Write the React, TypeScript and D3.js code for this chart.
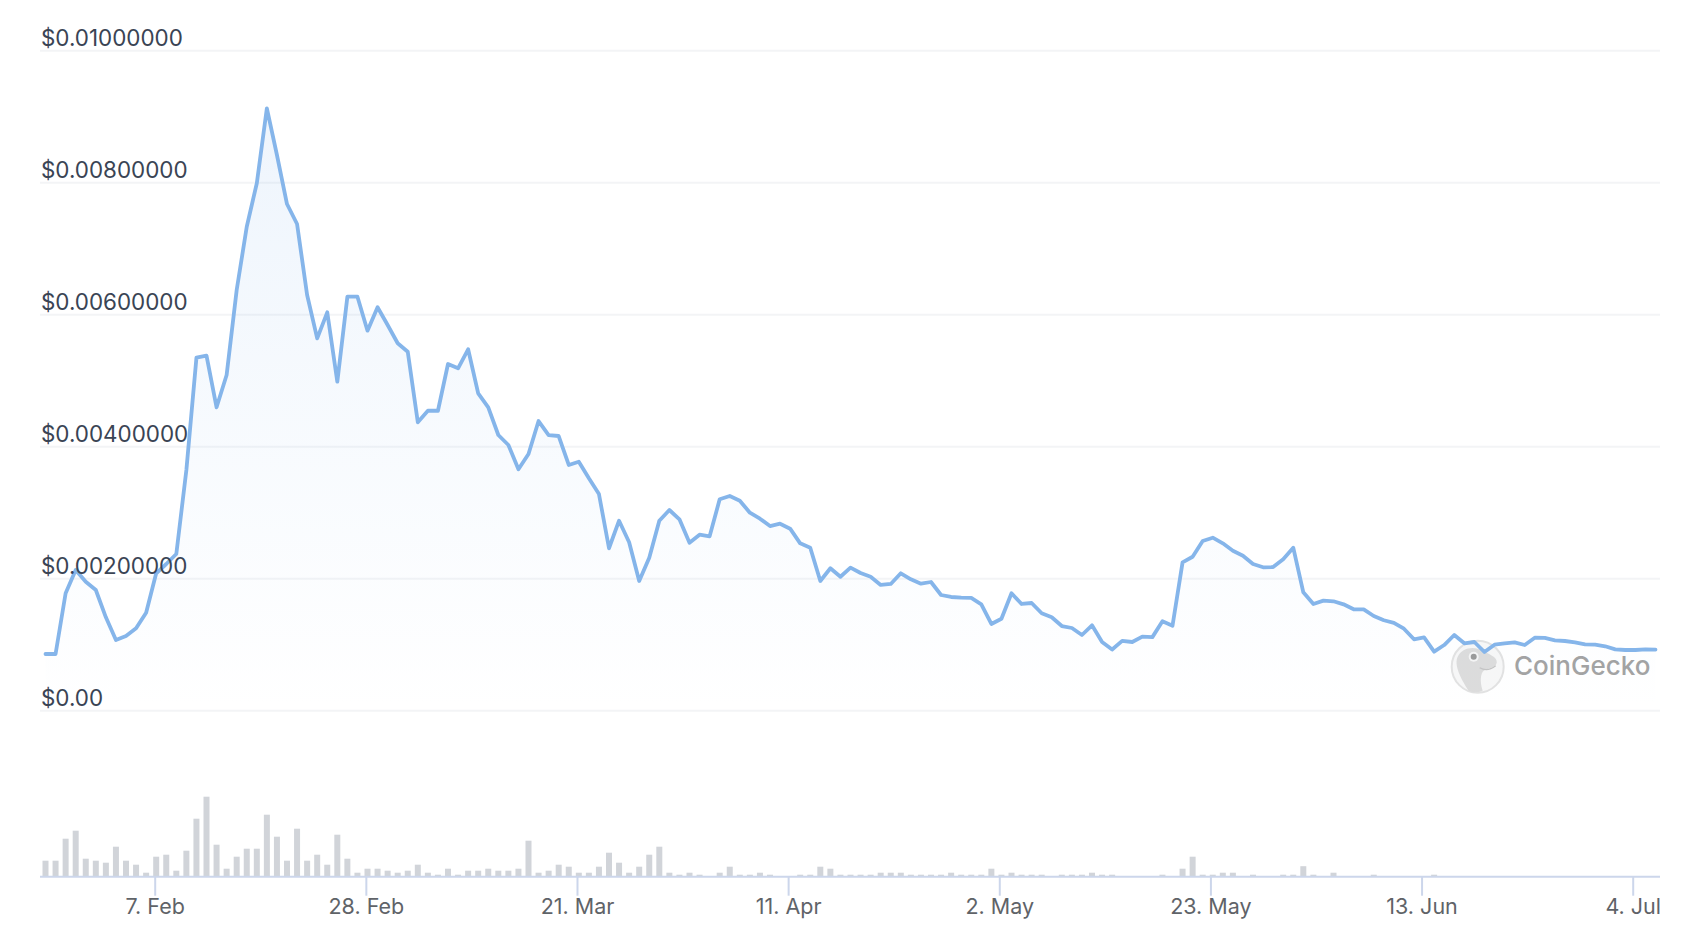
import React, { useEffect, useRef } from 'react';
import * as d3 from 'd3';

const prices = [
  0.000859, 0.000859, 0.001779, 0.002132, 0.001955, 0.001829, 0.001415, 0.001071, 0.001132, 0.001248,
  0.001485, 0.002082, 0.002223, 0.002374, 0.003647, 0.005348, 0.005379, 0.004597, 0.005086, 0.006374,
  0.007333, 0.007991, 0.009127, 0.00842, 0.007677, 0.007374, 0.006298, 0.005642, 0.006036, 0.004985,
  0.006273, 0.006273, 0.005758, 0.006112, 0.005844, 0.005567, 0.005439, 0.00437, 0.004545, 0.004545,
  0.005253, 0.005188, 0.005476, 0.004809, 0.004597, 0.004177, 0.004026, 0.003658, 0.003889, 0.004389,
  0.004177, 0.004162, 0.003723, 0.003773, 0.003521, 0.003283, 0.002461, 0.002879, 0.002552, 0.001965,
  0.002318, 0.002879, 0.003041, 0.0029, 0.002545, 0.002667, 0.002642, 0.003203, 0.003253, 0.003182,
  0.003, 0.002909, 0.002798, 0.002833, 0.002758, 0.002536, 0.00247, 0.001965, 0.002158, 0.00203,
  0.002167, 0.002086, 0.00203, 0.001905, 0.00192, 0.002082, 0.001991, 0.001924, 0.00195, 0.001753,
  0.001723, 0.001712, 0.001708, 0.001612, 0.001314, 0.001394, 0.001779, 0.001617, 0.001632, 0.001476,
  0.001415, 0.001283, 0.001253, 0.001147, 0.001294, 0.001041, 0.000927, 0.001058, 0.001041, 0.001123,
  0.001115, 0.001355, 0.001288, 0.002248, 0.002333, 0.002571, 0.002621, 0.002536, 0.002424, 0.002348,
  0.002223, 0.002173, 0.002177, 0.002294, 0.00247, 0.001794, 0.001617, 0.001667, 0.001658, 0.001612,
  0.001536, 0.001536, 0.001435, 0.00137, 0.001332, 0.001242, 0.001082, 0.001112, 0.000894, 0.000995,
  0.001147, 0.001021, 0.001041, 0.000889, 0.001, 0.001021, 0.001036, 0.000995, 0.001106, 0.001102,
  0.001067, 0.001056, 0.001036, 0.001006, 0.001, 0.000976, 0.00093, 0.00092, 0.00092, 0.00093,
  0.000924,
];

// relative volume, the chart has no volume axis
const volumes = [
  16, 16, 38, 46, 18, 16, 14, 30, 16, 12,
  4, 20, 22, 6, 26, 58, 80, 32, 8, 20,
  28, 28, 62, 40, 16, 48, 16, 22, 12, 42,
  18, 4, 8, 8, 6, 4, 6, 12, 4, 2,
  8, 2, 6, 6, 8, 6, 6, 8, 36, 4,
  6, 12, 10, 4, 4, 10, 24, 14, 4, 10,
  22, 30, 4, 2, 4, 2, 0, 4, 10, 2,
  2, 4, 2, 0, 0, 2, 2, 10, 8, 2,
  2, 2, 2, 4, 4, 4, 2, 2, 2, 2,
  4, 2, 2, 2, 8, 2, 4, 2, 2, 2,
  0, 2, 2, 2, 4, 2, 2, 0, 0, 0,
  0, 2, 0, 8, 20, 2, 2, 4, 4, 0,
  2, 0, 0, 2, 2, 10.5, 2, 0, 4, 0,
  0, 0, 2, 0, 0, 0, 0, 0, 2, 0,
  0, 0, 0, 0, 0, 0, 0, 0, 0, 0,
  0, 0, 0, 0, 0, 0, 0, 0, 0, 0,
  0,
];

const yTicks = [0, 0.002, 0.004, 0.006, 0.008, 0.01];
const yTickLabels = ['$0.00', '$0.00200000', '$0.00400000', '$0.00600000', '$0.00800000', '$0.01000000'];

const xTicks = ['2022-02-07', '2022-02-28', '2022-03-21', '2022-04-11', '2022-05-02', '2022-05-23', '2022-06-13', '2022-07-04'];
const xTickLabels = ['7. Feb', '28. Feb', '21. Mar', '11. Apr', '2. May', '23. May', '13. Jun', '4. Jul'];

const WIDTH = 1686;
const HEIGHT = 938;
const FONT = 'Inter, "Noto Sans", sans-serif';

const App: React.FC = () => {
  const svgRef = useRef<SVGSVGElement>(null);

  useEffect(() => {
    if (!svgRef.current) return;
    const svg = d3.select(svgRef.current);
    svg.selectAll('*').remove();

    const left = 40;
    const right = 1660;
    const axisY = 876.7;

    const x = d3.scaleLinear().domain([0, prices.length - 1]).range([45.5, 1655.5]);
    const y = d3.scaleLinear().domain([0, 0.01]).range([710.7, 50.7]);
    const yVolume = d3.scaleLinear().domain([0, 80]).range([axisY, axisY - 80]);
    const parse = d3.utcParse('%Y-%m-%d');
    const tickDates = xTicks.map(d => parse(d) as Date);
    const xTime = d3.scaleUtc()
      .domain([tickDates[0], tickDates[tickDates.length - 1]])
      .range([154.7, 1632.7]);

    const defs = svg.append('defs');
    const grad = defs.append('linearGradient')
      .attr('id', 'areaFill')
      .attr('x1', 0).attr('y1', 0).attr('x2', 0).attr('y2', 1);
    grad.append('stop').attr('offset', 0).attr('stop-color', '#7cb0eb').attr('stop-opacity', 0.13);
    grad.append('stop').attr('offset', 1).attr('stop-color', '#7cb0eb').attr('stop-opacity', 0);

    // Grid lines
    svg.append('g')
      .selectAll('line')
      .data(yTicks)
      .enter().append('line')
      .attr('x1', left)
      .attr('x2', right)
      .attr('y1', d => y(d))
      .attr('y2', d => y(d))
      .attr('stroke', '#f3f4f6')
      .attr('stroke-width', 2);

    // Watermark
    const logo = svg.append('g').attr('transform', 'translate(1477.7,666.7)');
    logo.append('circle').attr('r', 26).attr('fill', '#f7f7f7').attr('stroke', '#e2e2e2').attr('stroke-width', 2);
    logo.append('path')
      .attr('d', 'M-9,24 C-17,12 -24,-2 -20,-10 C-16,-19 -4,-21 5,-16 C10,-13 20,-10 19,-4 C18,2 8,1 5,5 C2,10 3,18 5,24 C0,26 -5,26 -9,24 Z')
      .attr('fill', '#dcdcdc');
    logo.append('path')
      .attr('d', 'M2,1 C7,4 13,3 18,-1')
      .attr('fill', 'none')
      .attr('stroke', '#c4c4c4')
      .attr('stroke-width', 1.2);
    logo.append('circle').attr('cx', -4).attr('cy', -10).attr('r', 5).attr('fill', '#f5f5f5');
    logo.append('circle').attr('cx', -4).attr('cy', -10).attr('r', 3).attr('fill', '#9a9a9a');
    svg.append('text')
      .attr('x', 1514)
      .attr('y', 674.5)
      .attr('font-family', FONT)
      .attr('font-size', 26)
      .attr('font-weight', 500)
      .attr('fill', '#a3a3a3')
      .text('CoinGecko');

    // Price area and line
    const area = d3.area<number>()
      .x((_, i) => x(i))
      .y0(y(0))
      .y1(d => y(d));
    const line = d3.line<number>()
      .x((_, i) => x(i))
      .y(d => y(d));

    svg.append('path').datum(prices).attr('d', area).attr('fill', 'url(#areaFill)');
    svg.append('path')
      .datum(prices)
      .attr('d', line)
      .attr('fill', 'none')
      .attr('stroke', '#85b5ea')
      .attr('stroke-width', 3.8)
      .attr('stroke-linejoin', 'round')
      .attr('stroke-linecap', 'round');

    // Volume bars
    svg.append('g')
      .selectAll('rect')
      .data(volumes)
      .enter().append('rect')
      .attr('x', (_, i) => x(i) - 3)
      .attr('width', 6)
      .attr('y', d => yVolume(d))
      .attr('height', d => axisY - yVolume(d))
      .attr('fill', '#d1d4d9');

    // Price labels
    svg.append('g')
      .selectAll('text')
      .data(yTicks)
      .enter().append('text')
      .attr('x', 41)
      .attr('y', d => y(d) - 4.8)
      .attr('font-family', FONT)
      .attr('font-size', 22.4)
      .attr('fill', '#3a4454')
      .text((_, i) => yTickLabels[i]);

    // Time axis
    const axis = svg.append('g')
      .attr('transform', `translate(0,${axisY})`)
      .call(
        d3.axisBottom(xTime)
          .tickValues(tickDates)
          .tickSize(19)
          .tickSizeOuter(0)
          .tickPadding(3)
          .tickFormat((_, i) => xTickLabels[i])
      );
    axis.select('.domain')
      .attr('d', `M${left},0H${right}`)
      .attr('stroke', '#ccd6eb')
      .attr('stroke-width', 2);
    axis.selectAll('.tick line').attr('stroke', '#ccd6eb').attr('stroke-width', 2);
    axis.selectAll('.tick text')
      .attr('font-family', FONT)
      .attr('font-size', 21.5)
      .attr('fill', '#5f6368');

    return () => {
      svg.selectAll('*').remove();
    };
  }, []);

  return (
    <svg
      ref={svgRef}
      width={WIDTH}
      height={HEIGHT}
      style={{ position: 'absolute', left: 0, top: 0, background: '#fff' }}
    />
  );
};

export default App;
